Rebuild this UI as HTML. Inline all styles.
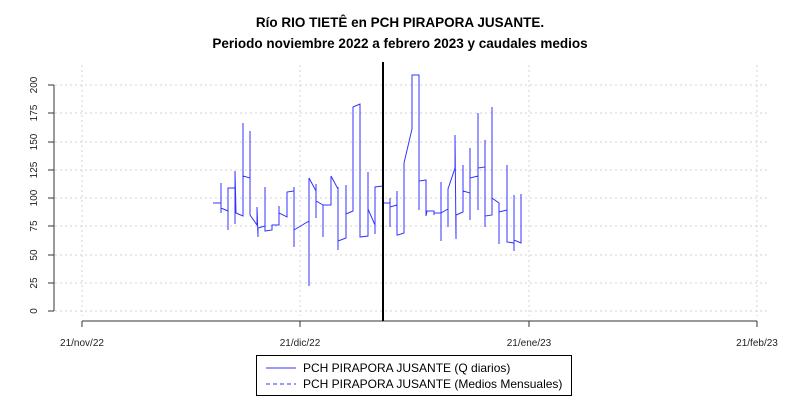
<!DOCTYPE html>
<html><head><meta charset="utf-8"><style>
body{margin:0;background:#fff}
svg{display:block;font-family:"Liberation Sans",sans-serif}
</style></head><body>
<svg width="800" height="400" viewBox="0 0 800 400">
<rect width="800" height="400" fill="#fff"/>
<text x="400" y="27" text-anchor="middle" font-size="13.5" font-weight="bold">Río RIO TIETÊ en PCH PIRAPORA JUSANTE.</text>
<text x="400" y="48" text-anchor="middle" font-size="13.5" font-weight="bold">Periodo noviembre 2022 a febrero 2023 y caudales medios</text>
<g stroke="#d3d3d3" stroke-dasharray="2,3" stroke-width="1">
<line x1="55" x2="770" y1="311" y2="311"/><line x1="55" x2="770" y1="283" y2="283"/>
<line x1="55" x2="770" y1="255" y2="255"/><line x1="55" x2="770" y1="226" y2="226"/>
<line x1="55" x2="770" y1="198" y2="198"/><line x1="55" x2="770" y1="170" y2="170"/>
<line x1="55" x2="770" y1="142" y2="142"/><line x1="55" x2="770" y1="113" y2="113"/>
<line x1="55" x2="770" y1="85" y2="85"/>
<line x1="82" x2="82" y1="65" y2="316"/><line x1="300" x2="300" y1="65" y2="316"/>
<line x1="529" x2="529" y1="65" y2="316"/><line x1="757" x2="757" y1="65" y2="316"/>
</g>
<g stroke="#333" fill="none">
<line x1="54" x2="54" y1="85" y2="311"/>
<line x1="48" x2="54" y1="311" y2="311"/><line x1="48" x2="54" y1="283" y2="283"/>
<line x1="48" x2="54" y1="255" y2="255"/><line x1="48" x2="54" y1="226" y2="226"/>
<line x1="48" x2="54" y1="198" y2="198"/><line x1="48" x2="54" y1="170" y2="170"/>
<line x1="48" x2="54" y1="142" y2="142"/><line x1="48" x2="54" y1="113" y2="113"/>
<line x1="48" x2="54" y1="85" y2="85"/>
<line x1="82" x2="757" y1="321" y2="321"/>
<line x1="82" x2="82" y1="321" y2="327"/><line x1="300" x2="300" y1="321" y2="327"/>
<line x1="529" x2="529" y1="321" y2="327"/><line x1="757" x2="757" y1="321" y2="327"/>
</g>
<g font-size="10" fill="#222" text-anchor="middle">
<text transform="translate(37,311) rotate(-90)">0</text>
<text transform="translate(37,283) rotate(-90)">25</text>
<text transform="translate(37,255) rotate(-90)">50</text>
<text transform="translate(37,226) rotate(-90)">75</text>
<text transform="translate(37,198) rotate(-90)">100</text>
<text transform="translate(37,170) rotate(-90)">125</text>
<text transform="translate(37,142) rotate(-90)">150</text>
<text transform="translate(37,113) rotate(-90)">175</text>
<text transform="translate(37,85) rotate(-90)">200</text>
<text x="82" y="346">21/nov/22</text>
<text x="300" y="346">21/dic/22</text>
<text x="529" y="346">21/ene/23</text>
<text x="757" y="346">21/feb/23</text>
</g>
<polyline fill="none" stroke="#3333ff" stroke-width="1" points="213,203 221,203 221,183 221,213 221,208 228,211 228,230 228,188 235,188 235,224 235,171 236,213 243,216 243,123 243,176 250,178 250,131 250,215 257,225 257,207 258,237 258,228 265,226 265,187 265,231 272,230 272,225 279,225 279,206 279,213 287,217 287,192 294,191 294,187 294,247 294,230 309,221 309,286 309,178 316,191 316,184 316,218 316,201 323,205 323,237 323,205 331,205 331,176 338,189 338,187 338,250 338,241 346,238 346,185 346,214 353,211 353,107 360,104 360,237 368,236 368,172 368,209 375,225 375,234 375,187 383,186 383,178 383,203 390,203 390,198 390,227 390,207 397,205 397,191 397,235 398,235 404,233 404,163 412,129 412,75 419,75 419,210 419,181 426,180 426,216 427,211 434,211 434,215 434,213 441,213 441,182 441,241 441,213 448,209 448,227 448,189 455,168 455,135 456,239 456,215 463,212 463,165 463,191 470,193 470,148 470,220 470,178 478,176 478,113 478,210 478,168 485,167 485,140 485,227 485,216 492,215 492,107 492,198 499,203 499,244 499,212 507,210 507,165 507,242 514,243 514,195 514,251 514,240 521,243 521,194 521,243"/>
<line x1="383" x2="383" y1="62" y2="321" stroke="#000" stroke-width="2"/>
<rect x="256.5" y="355.5" width="315" height="40" fill="#fff" stroke="#000"/>
<line x1="266" x2="296" y1="368" y2="368" stroke="#3333ff"/>
<line x1="266" x2="296" y1="384" y2="384" stroke="#3333ff" stroke-dasharray="4,3"/>
<g font-size="12" fill="#000">
<text x="303" y="372">PCH PIRAPORA JUSANTE (Q diarios)</text>
<text x="303" y="388">PCH PIRAPORA JUSANTE (Medios Mensuales)</text>
</g>
</svg>
</body></html>
